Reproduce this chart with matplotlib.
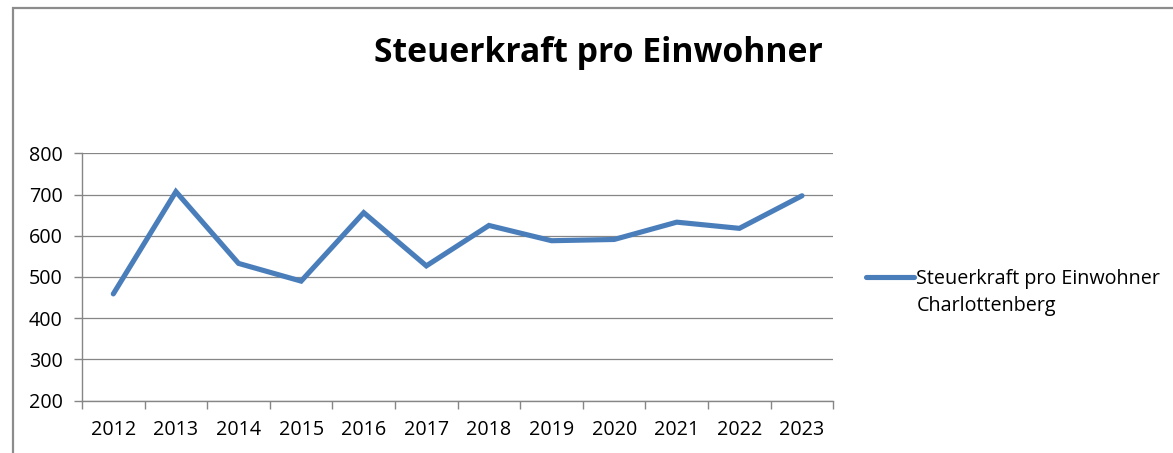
import matplotlib
matplotlib.use("Agg")
import matplotlib.pyplot as plt
from matplotlib.patches import Rectangle
import numpy as np

years = ["2012", "2013", "2014", "2015", "2016", "2017", "2018", "2019", "2020", "2021", "2022", "2023"]
values = [459, 707, 533, 490, 656, 527, 625, 588, 591, 633, 618, 697]
series_label = "Steuerkraft pro Einwohner"
series_label2 = "Charlottenberg"
title = "Steuerkraft pro Einwohner"
yticks = [200, 300, 400, 500, 600, 700, 800]

FONT = "Open Sans"
FS = 14.2
W, H = 1173, 453
fig = plt.figure(figsize=(W / 100, H / 100), dpi=100)

# outer chart border (extends beyond right and bottom)
fig.patches.append(Rectangle((12.5 / W, -0.1), 1.2, 1 - 7.7 / H + 0.1, transform=fig.transFigure,
                             fill=False, edgecolor="#8c8c8c", linewidth=1.6))

ax = fig.add_axes([82 / W, 52.3 / H, (833.3 - 82) / W, (400.7 - 153.3) / H])
x = np.arange(len(years))
line, = ax.plot(x, values, color="#4A7EBB", linewidth=3.7, solid_capstyle="round",
                solid_joinstyle="miter")

ax.set_xlim(-0.5, len(years) - 0.5)
ax.set_ylim(min(yticks), max(yticks))
ax.set_yticks(yticks)
ax.set_yticklabels([str(v) for v in yticks])
ax.set_xticks(x)
ax.set_xticklabels(years)
ax.set_xticks(np.arange(-0.5, len(years)), minor=True)
ax.tick_params(axis="x", which="major", length=0, pad=14)
ax.tick_params(axis="x", which="minor", length=6, width=1.0, color="#868686", direction="out")
ax.tick_params(axis="y", which="major", length=6, width=1.0, color="#868686", direction="out", pad=8)
for lab in ax.get_xticklabels() + ax.get_yticklabels():
    lab.set_fontfamily(FONT)
    lab.set_fontsize(FS)
    lab.set_color("#000000")

ax.grid(axis="y", color="#868686", linewidth=0.9)
ax.set_axisbelow(True)
for s in ["top", "right"]:
    ax.spines[s].set_visible(False)
for s in ["left", "bottom"]:
    ax.spines[s].set_color("#868686")
    ax.spines[s].set_linewidth(1.0)

fig.text(598 / W, 1 - 62 / H, title, ha="center", va="baseline", fontfamily=FONT,
         fontweight="bold", fontsize=24.3, color="#000000")

leg = fig.legend([line], [series_label], loc="center left",
                 bbox_to_anchor=(866 / W, 1 - 279 / H), frameon=False, borderpad=0,
                 borderaxespad=0, handlelength=2.45, handletextpad=0.1,
                 prop={"family": FONT, "size": FS})
fig.canvas.draw()
txt = leg.get_texts()[0]
bb = txt.get_window_extent(fig.canvas.get_renderer())
fig.text(bb.x0 / W, (bb.y0 - 27) / H, series_label2, ha="left", va="bottom",
         fontfamily=FONT, fontsize=FS, color="#000000")

fig.savefig("out.png", dpi=100)
